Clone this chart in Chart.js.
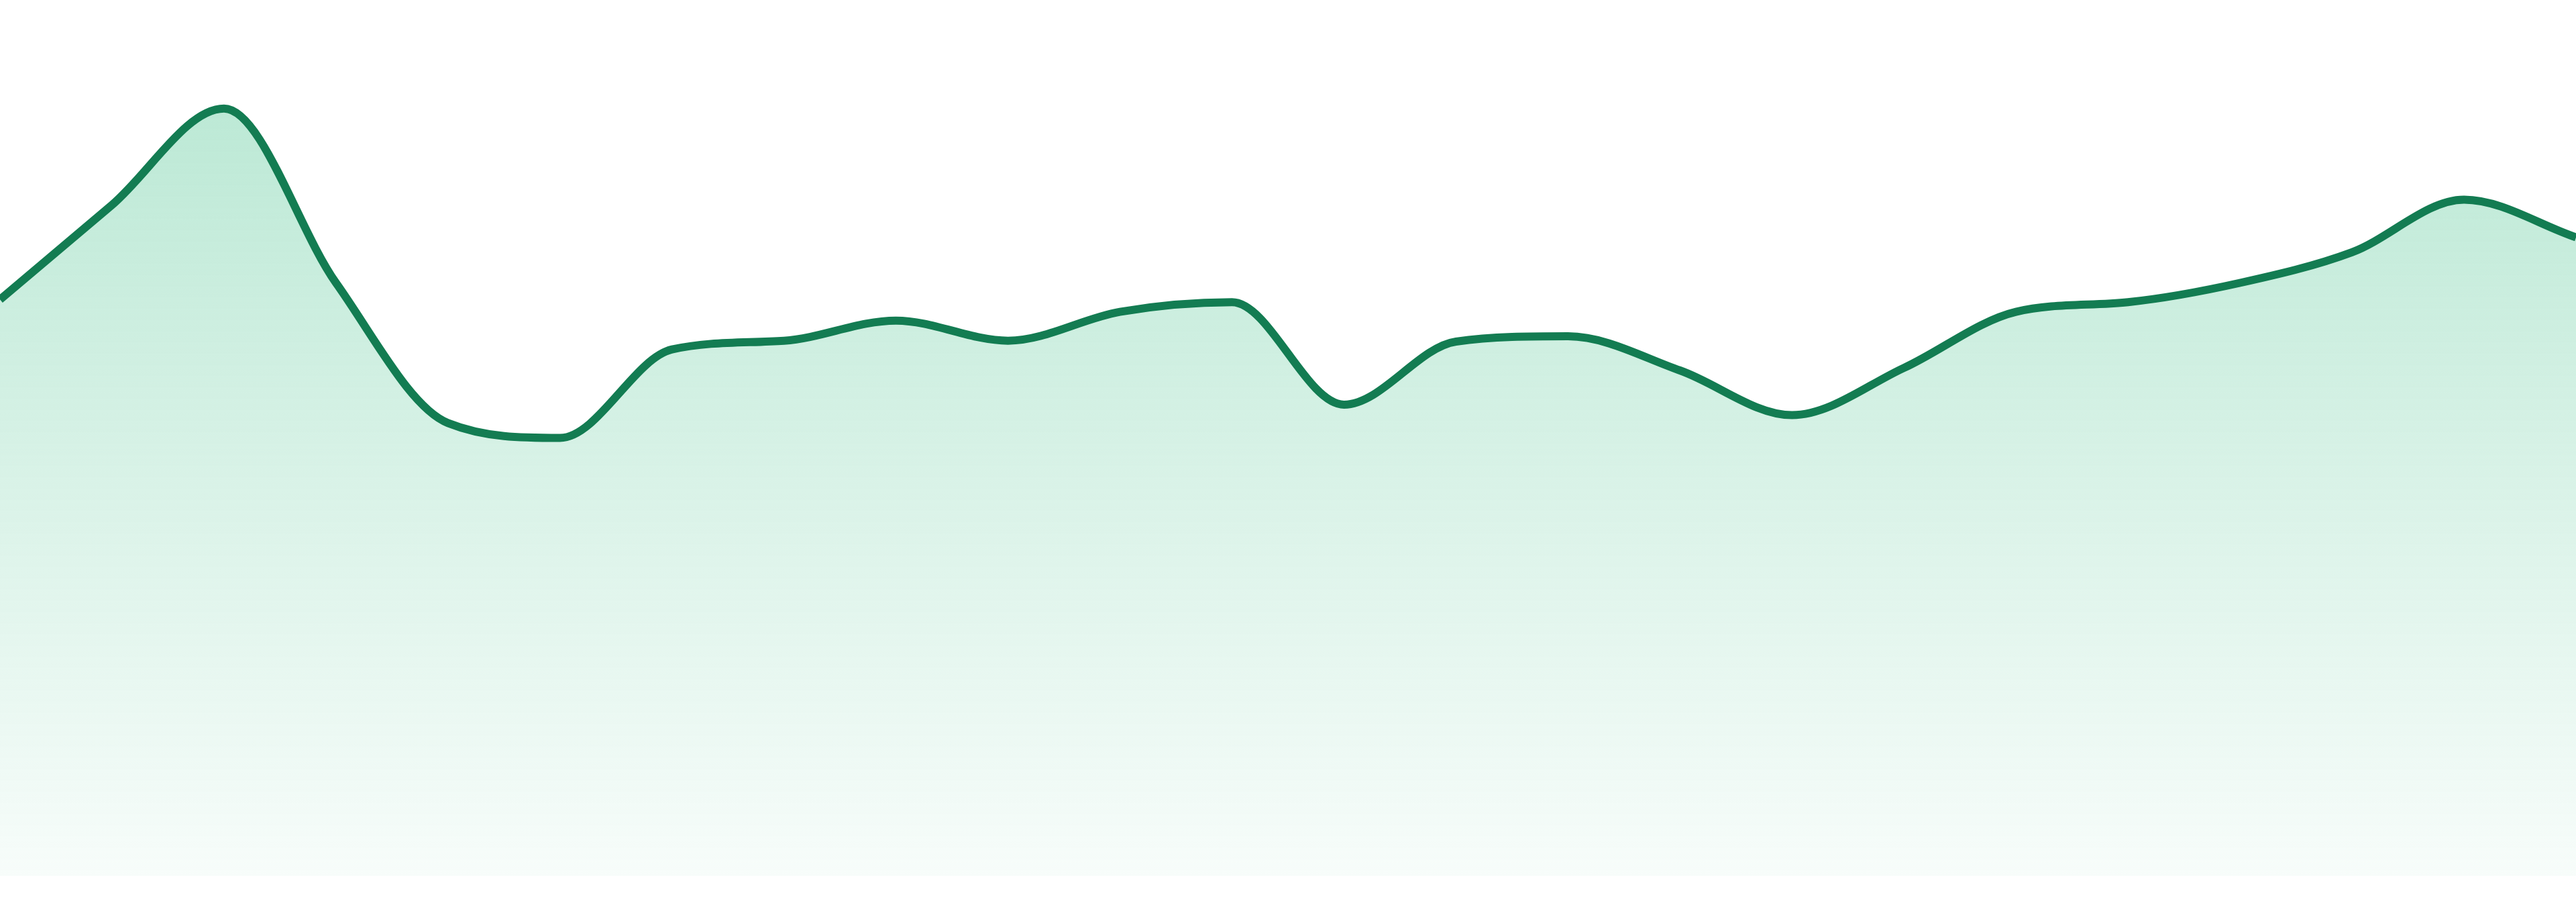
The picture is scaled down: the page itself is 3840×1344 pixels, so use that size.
<!DOCTYPE html>
<html>
<head>
<meta charset="utf-8">
<script src="https://cdn.jsdelivr.net/npm/chart.js@4.4.1/dist/chart.umd.min.js"></script>
<style>
  html, body { margin: 0; padding: 0; background: #ffffff; }
  #wrap { position: relative; width: 3840px; height: 1344px; }
</style>
</head>
<body>
<div id="wrap"><canvas id="c"></canvas></div>
<script>
const categories = ["1","2","3","4","5","6","7","8","9","10","11","12","13","14","15","16","17","18","19","20","21","22","23","24"];
const seriesValues = [65.8, 76.6, 87.6, 67.7, 51.7, 50.0, 60.1, 61.1, 63.4, 61.1, 64.4, 65.5,
                      53.8, 61.0, 61.6, 57.7, 52.6, 58.0, 64.4, 65.5, 67.7, 71.2, 77.2, 72.9];
const yMin = 0;
const yMax = 100;

const lineColor = 'rgb(19,124,82)';

function areaGradient(context) {
  const chart = context.chart;
  const area = chart.chartArea;
  if (!area) return 'rgba(35,182,118,0.2)';
  const g = chart.ctx.createLinearGradient(0, area.top, 0, area.bottom);
  g.addColorStop(0, 'rgba(35,182,118,0.34)');
  g.addColorStop(1, 'rgba(35,182,118,0.035)');
  return g;
}

new Chart(document.getElementById('c'), {
  type: 'line',
  data: {
    labels: categories,
    datasets: [{
      data: seriesValues,
      borderColor: lineColor,
      borderWidth: 12,
      backgroundColor: areaGradient,
      fill: 'start',
      cubicInterpolationMode: 'monotone',
      pointRadius: 0,
      pointHoverRadius: 0
    }]
  },
  options: {
    responsive: true,
    maintainAspectRatio: false,
    animation: false,
    layout: { padding: { top: 0, left: 0, right: 0, bottom: 39 } },
    plugins: { legend: { display: false }, tooltip: { enabled: false } },
    scales: {
      x: { display: false, offset: false },
      y: { display: false, min: yMin, max: yMax }
    }
  }
});
</script>
</body>
</html>
